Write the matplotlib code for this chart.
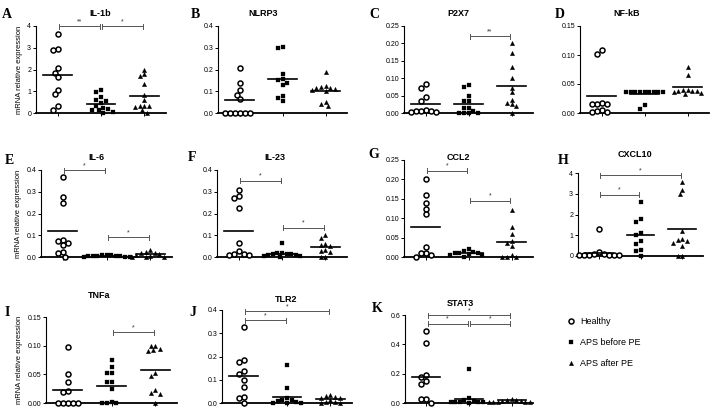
import matplotlib
matplotlib.use("Agg")
import matplotlib.pyplot as plt
import numpy as np
from matplotlib.lines import Line2D

plt.rcParams['font.family'] = ['Liberation Sans', 'DejaVu Sans']

# values (healthy, APS before PE, APS after PE)
il1b_healthy = [3.62, 2.95, 2.9, 2.07, 1.85, 1.65, 1.07, 0.87, 0.3, 0.15]
il1b_before = [1.05, 0.97, 0.72, 0.62, 0.55, 0.45, 0.3, 0.25, 0.2, 0.15, 0.12, 0.05, 0.0]
il1b_after = [2.0, 1.78, 1.72, 1.32, 0.85, 0.58, 0.32, 0.3, 0.3, 0.28, 0.12, 0.02]
il1b_lines = [1.75, 0.4, 0.78]
il1b_ticks = [0, 1, 2, 3, 4]
il1b_sig = [(1, 2, 4.0, '**'), (2, 3, 4.0, '*')]

nlrp3_healthy = [0.205, 0.14, 0.105, 0.085, 0.065, 0, 0, 0, 0, 0, 0]
nlrp3_before = [0.305, 0.3, 0.18, 0.155, 0.15, 0.14, 0.13, 0.08, 0.07, 0.055]
nlrp3_after = [0.19, 0.125, 0.12, 0.115, 0.115, 0.11, 0.105, 0.1, 0.05, 0.04, 0.03]
nlrp3_lines = [0.06, 0.155, 0.1]
nlrp3_ticks = [0.0, 0.1, 0.2, 0.3, 0.4]
nlrp3_sig = []

p2x7_healthy = [0.083, 0.073, 0.045, 0.035, 0.008, 0.006, 0.005, 0.005, 0.002, 0.002]
p2x7_before = [0.08, 0.075, 0.05, 0.035, 0.035, 0.015, 0.015, 0.005, 0, 0, 0, 0]
p2x7_after = [0.2, 0.172, 0.133, 0.1, 0.073, 0.06, 0.038, 0.03, 0.025, 0.02, 0.0]
p2x7_lines = [0.025, 0.025, 0.078]
p2x7_ticks = [0.0, 0.05, 0.10, 0.15, 0.20, 0.25]
p2x7_sig = [(2, 3, 0.22, '**')]

nfkb_healthy = [0.108, 0.102, 0.018, 0.016, 0.016, 0.016, 0.005, 0.003, 0.002, 0.002]
nfkb_before = [0.037, 0.037, 0.037, 0.037, 0.037, 0.037, 0.037, 0.037, 0.037, 0.013, 0.007]
nfkb_after = [0.08, 0.065, 0.04, 0.038, 0.038, 0.038, 0.036, 0.035, 0.033, 0.04]
nfkb_lines = [0.029, 0.033, 0.045]
nfkb_ticks = [0.0, 0.05, 0.10, 0.15]
nfkb_sig = []

il6_healthy = [0.37, 0.275, 0.248, 0.078, 0.072, 0.065, 0.055, 0.022, 0.018, 0.0]
il6_before = [0.01, 0.008, 0.007, 0.006, 0.005, 0.005, 0.004, 0.003, 0.002, 0.001, 0.0]
il6_after = [0.03, 0.025, 0.02, 0.02, 0.015, 0.01, 0.005, 0.0, 0.0, 0.0]
il6_lines = [0.12, 0.005, 0.015]
il6_ticks = [0.0, 0.1, 0.2, 0.3, 0.4]
il6_sig = [(1, 2, 0.4, '*'), (2, 3, 0.09, '*')]

il23_healthy = [0.31, 0.28, 0.27, 0.225, 0.065, 0.028, 0.015, 0.012, 0.01, 0.01]
il23_before = [0.065, 0.02, 0.018, 0.015, 0.015, 0.012, 0.01, 0.008, 0.005, 0.005, 0.0]
il23_after = [0.1, 0.088, 0.058, 0.055, 0.05, 0.03, 0.028, 0.025, 0.0, 0.0]
il23_lines = [0.12, 0.015, 0.045]
il23_ticks = [0.0, 0.1, 0.2, 0.3, 0.4]
il23_sig = [(1, 2, 0.35, '*'), (2, 3, 0.135, '*')]

ccl2_healthy = [0.2, 0.16, 0.14, 0.125, 0.11, 0.025, 0.01, 0.01, 0.005, 0.0]
ccl2_before = [0.02, 0.015, 0.012, 0.01, 0.01, 0.01, 0.008, 0.005, 0.005, 0.0]
ccl2_after = [0.12, 0.078, 0.06, 0.04, 0.035, 0.028, 0.005, 0.0, 0.0, 0.0]
ccl2_lines = [0.078, 0.01, 0.038]
ccl2_ticks = [0.0, 0.05, 0.10, 0.15, 0.20, 0.25]
ccl2_sig = [(1, 2, 0.222, '*'), (2, 3, 0.145, '*')]

cxcl10_healthy = [1.3, 0.2, 0.12, 0.1, 0.05, 0.05, 0.05, 0.05, 0.05, 0.05]
cxcl10_before = [2.6, 1.8, 1.65, 1.1, 1.0, 0.7, 0.6, 0.3, 0.25, 0.0]
cxcl10_after = [3.55, 3.2, 3.0, 1.2, 0.8, 0.75, 0.7, 0.65, 0.5, 0.0, 0.0]
cxcl10_lines = [0.15, 1.0, 1.3]
cxcl10_ticks = [0, 1, 2, 3, 4]
cxcl10_sig = [(1, 2, 2.95, '*'), (1, 3, 3.9, '*')]

tnfa_healthy = [0.098, 0.05, 0.036, 0.021, 0.02, 0, 0, 0, 0, 0]
tnfa_before = [0.075, 0.063, 0.052, 0.052, 0.037, 0.036, 0.024, 0.001, 0, 0, 0]
tnfa_after = [0.1, 0.1, 0.095, 0.093, 0.09, 0.052, 0.047, 0.022, 0.018, 0.016, 0.0]
tnfa_lines = [0.022, 0.03, 0.057]
tnfa_ticks = [0.0, 0.05, 0.10, 0.15]
tnfa_sig = [(2, 3, 0.123, '*')]

tlr2_healthy = [0.325, 0.187, 0.175, 0.138, 0.123, 0.1, 0.068, 0.025, 0.02, 0.0]
tlr2_before = [0.165, 0.065, 0.02, 0.015, 0.012, 0.01, 0.005, 0.0, 0.0, 0.0]
tlr2_after = [0.035, 0.03, 0.025, 0.02, 0.02, 0.015, 0.005, 0.005, 0.0, 0.0]
tlr2_lines = [0.115, 0.025, 0.018]
tlr2_ticks = [0.0, 0.1, 0.2, 0.3, 0.4]
tlr2_sig = [(1, 2, 0.355, '*'), (1, 3, 0.395, '*')]

stat3_healthy = [0.49, 0.41, 0.19, 0.18, 0.15, 0.13, 0.025, 0.025, 0.0]
stat3_before = [0.23, 0.035, 0.02, 0.015, 0.01, 0.01, 0.005, 0.005, 0.005, 0.0]
stat3_after = [0.03, 0.02, 0.02, 0.015, 0.015, 0.01, 0.01, 0.01, 0.005, 0.005]
stat3_lines = [0.18, 0.025, 0.02]
stat3_ticks = [0.0, 0.2, 0.4, 0.6]
stat3_sig = [(1, 3, 0.6, '*'), (1, 2, 0.54, '*'), (2, 3, 0.54, '*')]

group_names = ['Healthy', 'APS before PE', 'APS after PE']

W, H = 711, 409


def rect(l, t, r, b):
    return [l / W, 1 - b / H, (r - l) / W, (b - t) / H]


def swarm(vals, ymax, h_px, d=5.0):
    # simple beeswarm in pixel space
    step = d / 2
    y = np.asarray(vals, float) / ymax * h_px
    off = np.zeros(len(y))
    placed = []
    cands = [0.0]
    for n in range(1, 30):
        cands += [-n * step, n * step]
    for i in np.argsort(-y, kind='stable'):
        for x in cands:
            if all((x - px) ** 2 + (y[i] - py) ** 2 >= d * d * 0.95 for px, py in placed):
                break
        off[i] = x
        placed.append((x, y[i]))
    return off


styles = [
    dict(marker='o', ms=3.6, mfc='white', mec='black', mew=1.1),
    dict(marker='s', ms=2.9, mfc='black', mec='black', mew=0.2),
    dict(marker='^', ms=3.2, mfc='black', mec='black', mew=0.2),
]
spacing = [5.0, 4.6, 4.6]

panels = [
    ('A', 'IL-1b', [il1b_healthy, il1b_before, il1b_after], il1b_lines, il1b_ticks, 0, il1b_sig,
     (36, 26, 166, 113), (100, 13), (7, 14), True),
    ('B', 'NLRP3', [nlrp3_healthy, nlrp3_before, nlrp3_after], nlrp3_lines, nlrp3_ticks, 1, nlrp3_sig,
     (218, 26, 347, 113), (263, 13), (195, 14), False),
    ('C', 'P2X7', [p2x7_healthy, p2x7_before, p2x7_after], p2x7_lines, p2x7_ticks, 2, p2x7_sig,
     (404, 26, 533, 113), (458, 13), (374, 15), False),
    ('D', 'NF-kB', [nfkb_healthy, nfkb_before, nfkb_after], nfkb_lines, nfkb_ticks, 2, nfkb_sig,
     (580, 26, 709, 113), (627, 13), (560, 14), False),
    ('E', 'IL-6', [il6_healthy, il6_before, il6_after], il6_lines, il6_ticks, 1, il6_sig,
     (41, 170, 172, 257), (96, 158), (9, 160), True),
    ('F', 'IL-23', [il23_healthy, il23_before, il23_after], il23_lines, il23_ticks, 1, il23_sig,
     (217, 170, 347, 257), (275, 158), (192, 157), False),
    ('G', 'CCL2', [ccl2_healthy, ccl2_before, ccl2_after], ccl2_lines, ccl2_ticks, 2, ccl2_sig,
     (404, 160, 533, 257), (458, 157), (374, 155), False),
    ('H', 'CXCL10', [cxcl10_healthy, cxcl10_before, cxcl10_after], cxcl10_lines, cxcl10_ticks, 0, cxcl10_sig,
     (578, 173, 703, 256), (635, 154), (563, 160), False),
    ('I', 'TNFa', [tnfa_healthy, tnfa_before, tnfa_after], tnfa_lines, tnfa_ticks, 2, tnfa_sig,
     (46, 317, 177, 403), (99, 295), (7, 313), True),
    ('J', 'TLR2', [tlr2_healthy, tlr2_before, tlr2_after], tlr2_lines, tlr2_ticks, 1, tlr2_sig,
     (222, 310, 352, 403), (286, 300), (193, 313), False),
    ('K', 'STAT3', [stat3_healthy, stat3_before, stat3_after], stat3_lines, stat3_ticks, 1, stat3_sig,
     (405, 315, 533, 403), (460, 303), (377, 308), False),
]

fig = plt.figure(figsize=(W / 100, H / 100), dpi=100)

for letter, title, groups, lines, ticks, dec, sig, box, tpos, lpos, ylab in panels:
    ax = fig.add_axes(rect(*box))
    ymax = ticks[-1]
    ax.set_xlim(0.5, 3.5)
    ax.set_ylim(0, ymax)
    w_px = box[2] - box[0]
    h_px = box[3] - box[1]
    ppu = w_px / 3.0
    for g, vals in enumerate(groups):
        off = swarm(vals, ymax, h_px, spacing[g]) / ppu
        ax.plot(g + 1 + off, vals, linestyle='none', clip_on=False, zorder=3, **styles[g])
        ax.plot([g + 1 - 0.33, g + 1 + 0.33], [lines[g], lines[g]], color='black', lw=1.2,
                clip_on=False, zorder=4)
    cap = 2.5 / h_px * ymax
    for i, j, y, lab in sig:
        x0, x1 = i + 0.03, j - 0.03
        ax.plot([x0, x1], [y, y], color='#555555', lw=0.7, clip_on=False)
        ax.plot([x0, x0], [y - cap, y + cap], color='#555555', lw=0.7, clip_on=False)
        ax.plot([x1, x1], [y - cap, y + cap], color='#555555', lw=0.7, clip_on=False)
        ax.text((x0 + x1) / 2, y + cap * 0.4, lab, ha='center', va='bottom', fontsize=5,
                color='#333333')
    for s in ['top', 'right']:
        ax.spines[s].set_visible(False)
    ax.spines['left'].set_linewidth(0.8)
    ax.spines['bottom'].set_linewidth(1.3)
    ax.set_yticks(ticks)
    ax.set_yticklabels([f"{t:.{dec}f}" for t in ticks])
    ax.set_xticks([1, 2, 3])
    ax.set_xticklabels([])
    ax.tick_params(axis='y', direction='out', length=2.5, width=0.7, labelsize=5, pad=1)
    ax.tick_params(axis='x', direction='out', length=2, width=0.7)
    if ylab:
        ax.set_ylabel('mRNA relative expression', fontsize=5.5, labelpad=3)
    fig.text(tpos[0] / W, 1 - tpos[1] / H, title, ha='center', va='center', fontsize=6.5,
             fontweight='bold')
    fig.text(lpos[0] / W, 1 - lpos[1] / H, letter, ha='center', va='center', fontsize=10,
             fontweight='bold', family=['Liberation Serif', 'DejaVu Serif'])

handles = [Line2D([], [], linestyle='none', **styles[g]) for g in range(3)]
fig.legend(handles, group_names, loc='upper left', bbox_to_anchor=(566 / W, 1 - 317 / H),
           frameon=False, fontsize=6.5, labelspacing=1.35, handlelength=1.0,
           handletextpad=0.6, borderpad=0, borderaxespad=0)

fig.savefig('out.png', dpi=100)
